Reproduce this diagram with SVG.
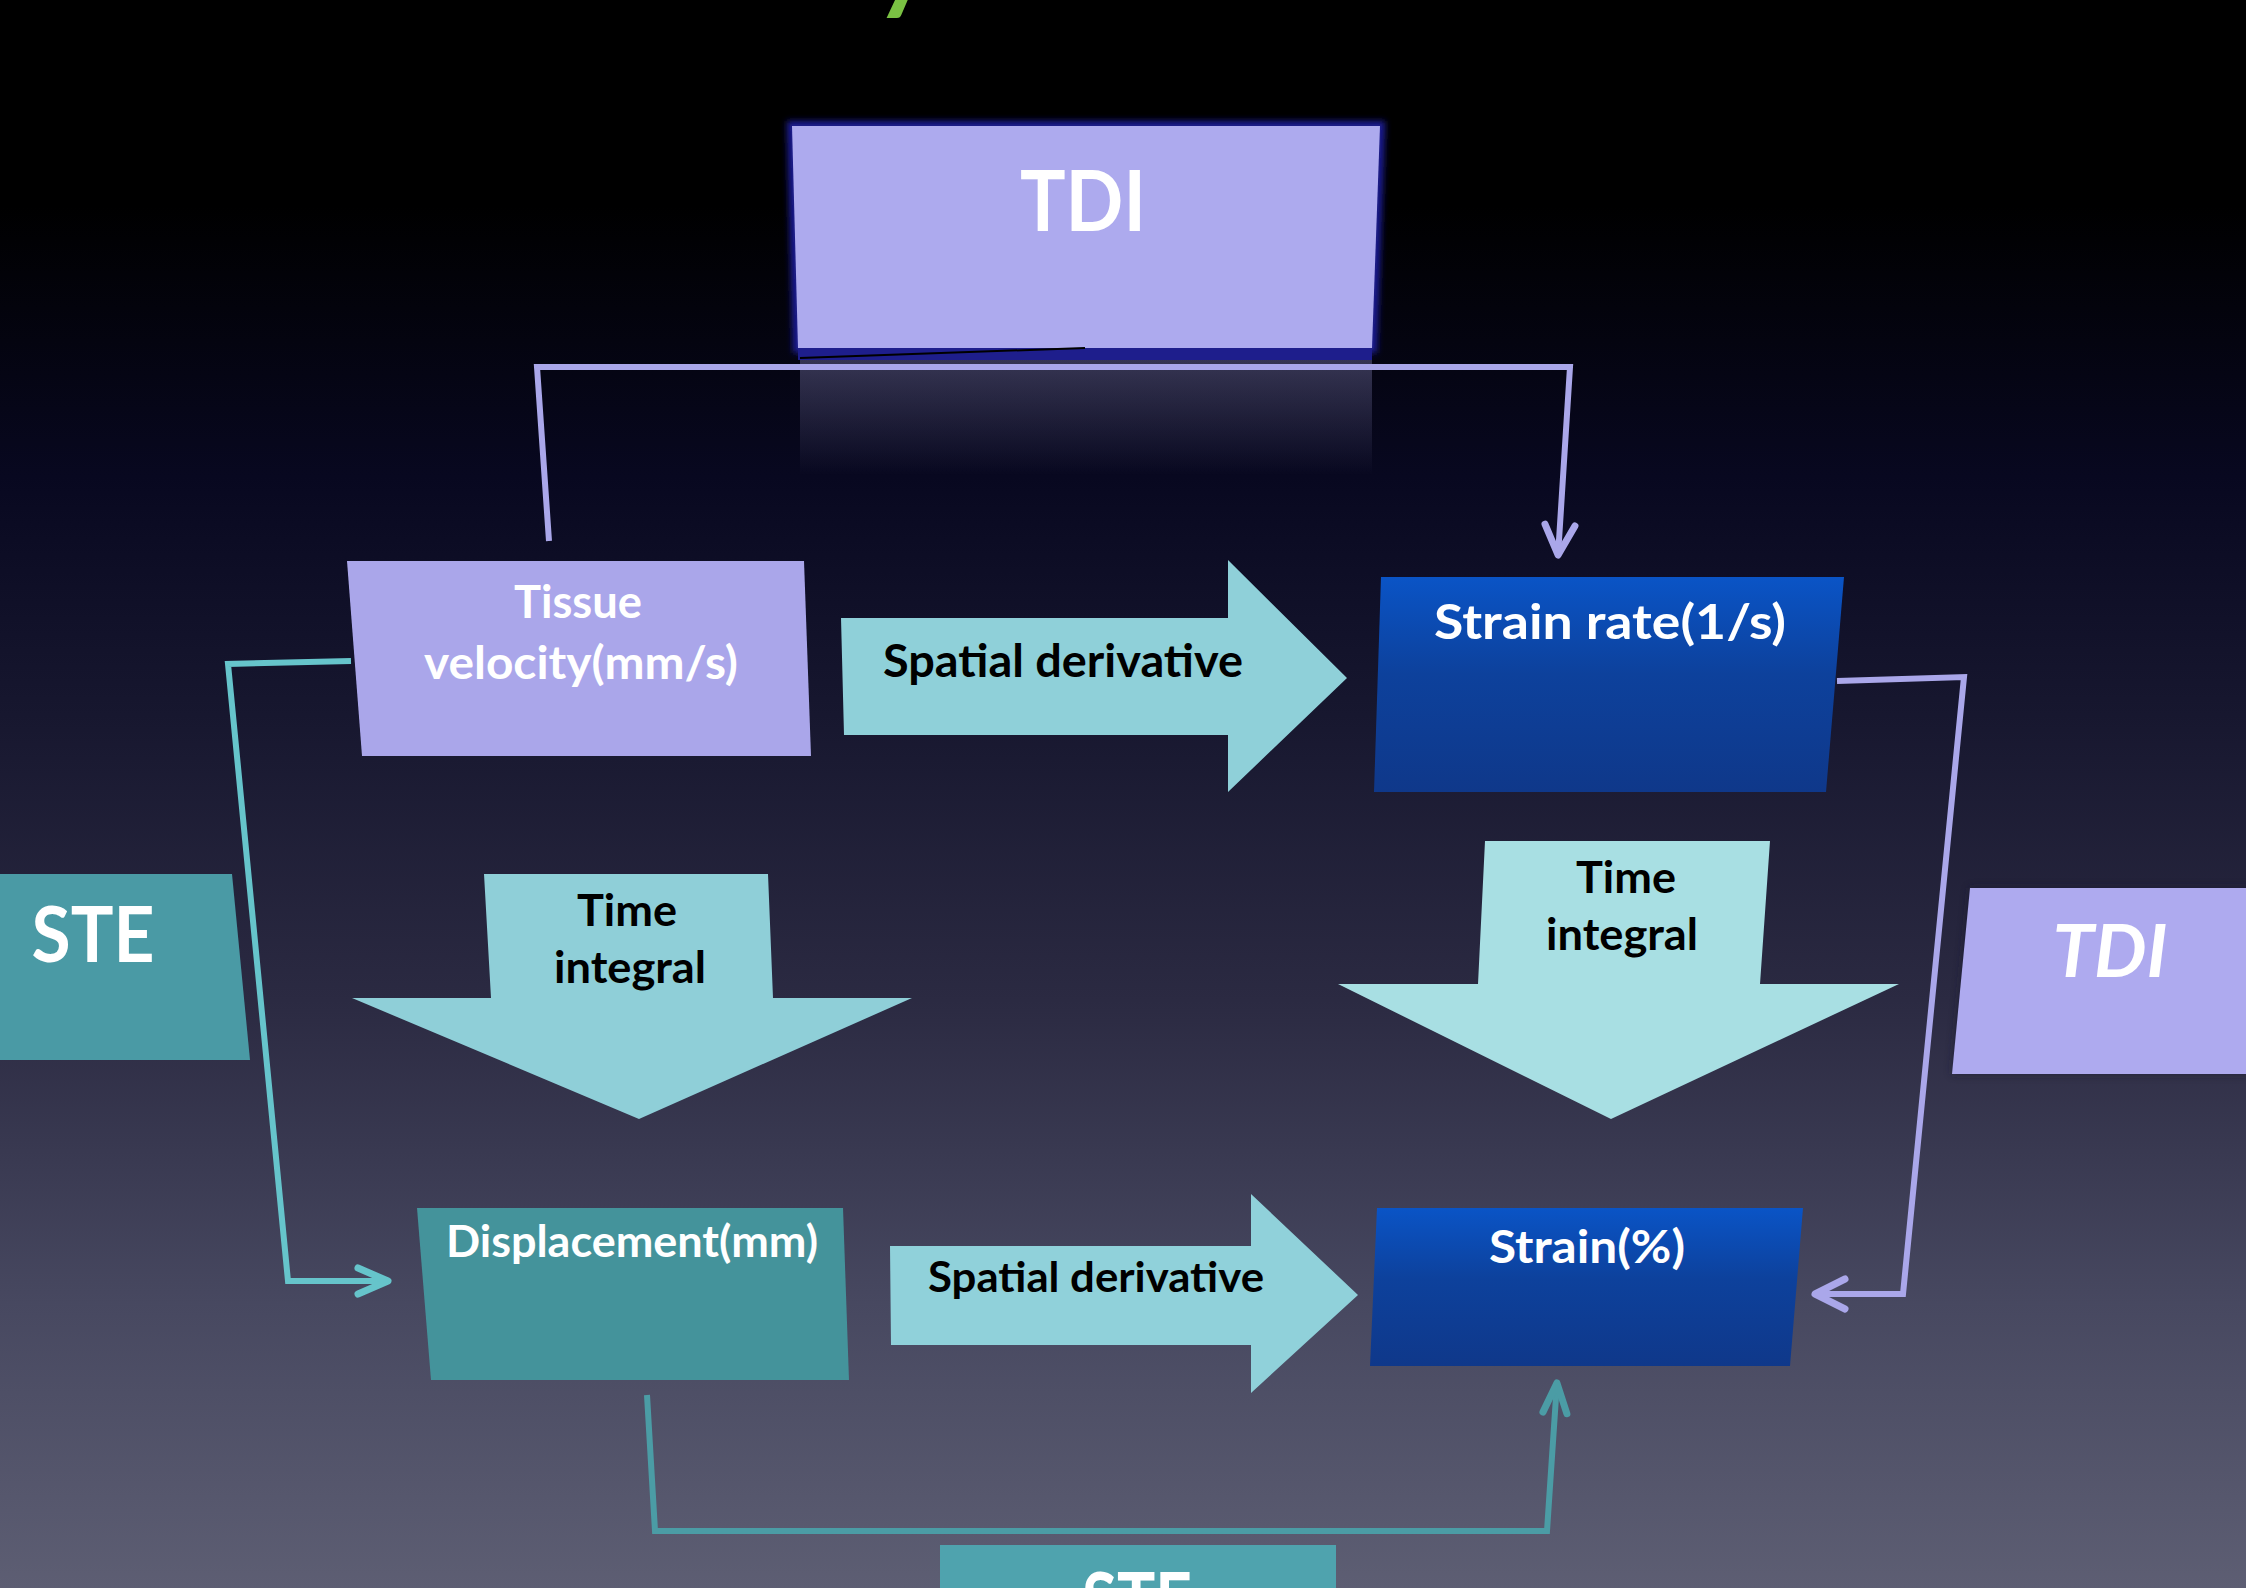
<svg xmlns="http://www.w3.org/2000/svg" width="2246" height="1588" viewBox="0 0 2246 1588">
<defs>
<linearGradient id="bg" x1="0" y1="0" x2="0" y2="1">
<stop offset="0" stop-color="#000000"/>
<stop offset="0.13" stop-color="#000000"/>
<stop offset="0.3" stop-color="#080820"/>
<stop offset="0.45" stop-color="#17172f"/>
<stop offset="0.63" stop-color="#2b2a42"/>
<stop offset="0.82" stop-color="#474860"/>
<stop offset="1" stop-color="#5d5e73"/>
</linearGradient>
<linearGradient id="blue" x1="0" y1="0" x2="0" y2="1">
<stop offset="0" stop-color="#0a54c6"/>
<stop offset="0.45" stop-color="#0d419c"/>
<stop offset="1" stop-color="#0f388a"/>
</linearGradient>
<linearGradient id="refl" x1="0" y1="0" x2="0" y2="1">
<stop offset="0" stop-color="#aaa7ea" stop-opacity="0.3"/>
<stop offset="1" stop-color="#aaa7ea" stop-opacity="0"/>
</linearGradient>
<filter id="glow" x="-10%" y="-10%" width="120%" height="120%">
<feGaussianBlur stdDeviation="3"/>
</filter>
<filter id="shadow" x="-10%" y="-10%" width="120%" height="120%">
<feGaussianBlur stdDeviation="4"/>
</filter>
<marker id="mLav" viewBox="-40 -20 50 40" refX="0" refY="0" markerWidth="50" markerHeight="40" markerUnits="userSpaceOnUse" orient="auto">
<path d="M-31,-15 L-1,0 L-31,15" fill="none" stroke="#aaa7ea" stroke-width="7" stroke-linecap="round" stroke-linejoin="round"/>
</marker>
<marker id="mCyan" viewBox="-40 -20 50 40" refX="0" refY="0" markerWidth="50" markerHeight="40" markerUnits="userSpaceOnUse" orient="auto">
<path d="M-31,-13 L-1,0 L-31,13" fill="none" stroke="#66c4cb" stroke-width="7" stroke-linecap="round" stroke-linejoin="round"/>
</marker>
<marker id="mTeal" viewBox="-40 -20 50 40" refX="0" refY="0" markerWidth="50" markerHeight="40" markerUnits="userSpaceOnUse" orient="auto">
<path d="M-31,-12 L-1,0 L-31,12" fill="none" stroke="#4b9ca5" stroke-width="7" stroke-linecap="round" stroke-linejoin="round"/>
</marker>
</defs>
<style>
.lbl{font-family:Lato,"Open Sans","Liberation Sans",sans-serif;font-weight:bold;text-anchor:middle}
.w{fill:#ffffff}
.k{fill:#000000}
.con{fill:none;stroke-width:6;stroke-linejoin:miter}
</style>
<rect x="0" y="0" width="2246" height="1588" fill="url(#bg)"/>
<text x="874" y="0" font-family="Lato,'Open Sans',sans-serif" font-weight="bold" font-size="110" fill="#7ac143">y</text>

<g id="tdi-top">
<polygon points="792,126 1380,126 1372,348 798,348" fill="none" stroke="#1c1c96" stroke-width="10" filter="url(#glow)"/>
<rect x="798" y="348" width="574" height="12" fill="#1e1e8c"/>
<rect x="800" y="360" width="572" height="115" fill="url(#refl)"/>
<polygon points="792,126 1380,126 1372,348 798,348" fill="#adaaee"/>
<line x1="800" y1="358" x2="1085" y2="348" stroke="#000000" stroke-width="2"/>
<text class="lbl w" x="1083" y="231" font-size="84" textLength="126" lengthAdjust="spacingAndGlyphs">TDI</text>
</g>

<g id="connectors">
<path class="con" d="M549,541 L537,367 L1570,367 L1558,556" stroke="#aaa7ea" marker-end="url(#mLav)"/>
<path class="con" d="M1837,681 L1964,677 L1903,1294 L1814,1294" stroke="#aaa7ea" marker-end="url(#mLav)"/>
<path class="con" d="M351,661 L228,664 L288,1281 L389,1281" stroke="#66c4cb" marker-end="url(#mCyan)"/>
<path class="con" d="M647,1395 L655,1531 L1547,1531 L1557,1382" stroke="#4b9ca5" marker-end="url(#mTeal)"/>
</g>

<g id="tissue-velocity">
<polygon points="347,561 804,561 811,756 362,756" fill="#aaa6ea"/>
<text class="lbl w" x="578" y="618" font-size="45" textLength="128" lengthAdjust="spacingAndGlyphs">Tissue</text>
<text class="lbl w" x="581" y="679" font-size="45" textLength="314" lengthAdjust="spacingAndGlyphs">velocity(mm/s)</text>
</g>

<g id="spatial-derivative-top">
<polygon points="841,618 1228,618 1228,560 1347,678 1228,792 1228,735 844,735" fill="#8fd0d9"/>
<text class="lbl k" x="1063" y="677" font-size="46" textLength="360" lengthAdjust="spacingAndGlyphs">Spatial derivative</text>
</g>

<g id="strain-rate">
<polygon points="1381,577 1844,577 1826,792 1374,792" fill="url(#blue)"/>
<text class="lbl w" x="1610" y="639" font-size="48" textLength="352" lengthAdjust="spacingAndGlyphs">Strain rate(1/s)</text>
</g>

<g id="ste-left">
<polygon points="0,874 232,874 250,1060 0,1060" fill="#4a9aa5"/>
<text class="lbl w" x="93" y="962" font-size="76" textLength="123" lengthAdjust="spacingAndGlyphs">STE</text>
</g>

<g id="time-integral-left">
<polygon points="484,874 768,874 773,998 912,998 639,1119 352,998 491,998" fill="#8fcfd8"/>
<text class="lbl k" x="627" y="926" font-size="44" textLength="100" lengthAdjust="spacingAndGlyphs">Time</text>
<text class="lbl k" x="630" y="983" font-size="44" textLength="152" lengthAdjust="spacingAndGlyphs">integral</text>
</g>

<g id="time-integral-right">
<polygon points="1485,841 1770,841 1760,984 1899,984 1611,1119 1338,984 1478,984" fill="#a8dfe3"/>
<text class="lbl k" x="1626" y="893" font-size="44" textLength="100" lengthAdjust="spacingAndGlyphs">Time</text>
<text class="lbl k" x="1622" y="950" font-size="44" textLength="152" lengthAdjust="spacingAndGlyphs">integral</text>
</g>

<g id="tdi-right">
<polygon points="1970,888 2260,888 2250,1074 1952,1074" fill="#1a1a30" opacity="0.6" filter="url(#shadow)"/>
<polygon points="1970,888 2260,888 2248,1074 1952,1074" fill="#aeaaef"/>
<text class="lbl w" x="2110" y="977" font-size="72" font-style="italic" textLength="115" lengthAdjust="spacingAndGlyphs">TDI</text>
</g>

<g id="displacement">
<polygon points="417,1208 843,1208 849,1380 431,1380" fill="#44939b"/>
<text class="lbl w" x="632" y="1257" font-size="44" textLength="372" lengthAdjust="spacingAndGlyphs">Displacement(mm)</text>
</g>

<g id="spatial-derivative-bottom">
<polygon points="890,1246 1251,1246 1251,1194 1358,1295 1251,1393 1251,1345 891,1345" fill="#90d1da"/>
<text class="lbl k" x="1096" y="1292" font-size="42" textLength="336" lengthAdjust="spacingAndGlyphs">Spatial derivative</text>
</g>

<g id="strain">
<polygon points="1377,1208 1803,1208 1790,1366 1370,1366" fill="url(#blue)"/>
<text class="lbl w" x="1587" y="1263" font-size="46" textLength="196" lengthAdjust="spacingAndGlyphs">Strain(%)</text>
</g>

<g id="ste-bottom">
<rect x="940" y="1545" width="396" height="50" fill="#4fa3ae"/>
<text class="lbl w" x="1137" y="1628" font-size="76" textLength="110" lengthAdjust="spacingAndGlyphs">STE</text>
</g>
</svg>
